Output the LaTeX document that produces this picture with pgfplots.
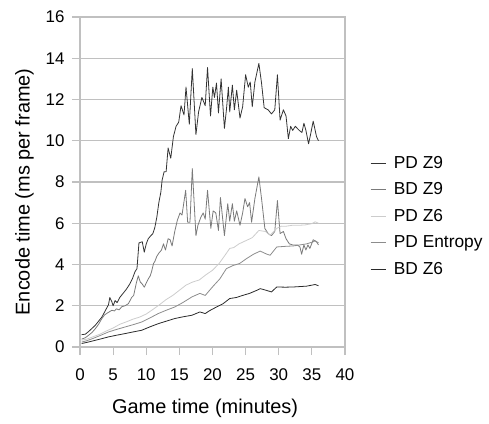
\documentclass[border=0pt]{standalone}
\usepackage{pgfplots}
\pgfplotsset{compat=1.18}
\usepackage{fontspec}
\setmainfont{Liberation Sans}
\definecolor{cPDZnine}{HTML}{333333}
\definecolor{cBDZnine}{HTML}{7A7A7A}
\definecolor{cPDZsix}{HTML}{CCCCCC}
\definecolor{cPDEnt}{HTML}{8C8C8C}
\definecolor{cBDZsix}{HTML}{2A2A2A}
\definecolor{gridc}{HTML}{C0C0C0}
\begin{document}
\begin{tikzpicture}
\path[use as bounding box] (0,0) rectangle (489bp,424bp);
\begin{axis}[
  at={(80bp,77bp)}, anchor=south west,
  width=265bp, height=330bp, scale only axis,
  xmin=0, xmax=40, ymin=0, ymax=16,
  xtick={0,5,...,40}, ytick={0,2,...,16},
  axis line style={draw=gridc, line width=1.2pt},
  ymajorgrids, major grid style={draw=gridc, line width=1.2pt},
  tick align=outside, major tick length=8bp,
  tick style={draw=gridc, line width=1.2pt},
  xtick pos=bottom, ytick pos=left,
  /pgf/number format/assume math mode=true,
  ticklabel style={font=\fontsize{17}{20}\selectfont},
  xticklabel style={yshift=-10bp},
  yticklabel style={xshift=-4bp},
  xlabel={Game time (minutes)},
  ylabel={Encode time (ms per frame)},
  label style={font=\fontsize{20}{24}\selectfont},
  xlabel style={at={(axis description cs:0.472,-0.185)}, anchor=center},
  ylabel style={at={(axis description cs:-0.21,0.47)}, anchor=center},
  legend style={at={(axis description cs:1.094,0.585)}, anchor=north west,
    draw=none, fill=none, font=\fontsize{17.4}{20}\selectfont, row sep=9bp,
    inner sep=0pt, nodes={inner xsep=8bp}},
  legend cell align=left,
  legend image code/.code={\draw[#1] (0bp,0bp) -- (15bp,0bp);},
  every axis plot/.append style={line width=0.8pt, line join=round},
]
% PD Z9
\addplot[color=cPDZnine] coordinates {
(0.25,0.6)(0.8,0.62)(1.3,0.75)(1.8,0.9)(2.3,1.05)(2.8,1.25)(3.3,1.45)(3.8,1.75)
(4.3,2.05)(4.5,2.4)(4.8,2.2)(5.0,2.0)(5.3,2.25)(5.6,2.15)(6.0,2.4)(6.5,2.6)
(7.0,2.8)(7.5,3.05)(7.9,3.3)(8.3,3.65)(8.6,3.8)(8.9,5.05)(9.4,5.1)(9.7,4.6)
(10.0,5.0)(10.3,5.25)(10.7,5.4)(11.0,5.5)(11.3,5.8)(11.6,6.3)(11.9,7.0)(12.2,7.5)
(12.4,8.1)(12.7,8.5)(13.0,8.5)(13.3,9.65)(13.7,9.15)(14.1,10.2)(14.5,10.7)(14.9,10.9)
(15.25,11.7)(15.7,11.25)(16.0,12.6)(16.5,10.8)(16.95,13.5)(17.5,10.3)(17.9,11.4)
(18.4,12.1)(18.9,11.7)(19.25,13.55)(19.7,11.2)(20.05,12.6)(20.3,12.1)(20.6,12.8)
(20.9,11.35)(21.3,13.0)(21.8,10.6)(22.1,11.5)(22.4,12.6)(22.6,11.4)(23.0,12.7)
(23.3,11.5)(23.65,12.45)(24.15,11.1)(24.55,11.65)(25.0,13.2)(25.4,12.6)(25.7,12.85)
(26.0,11.65)(26.4,12.85)(27.0,13.75)(27.4,12.8)(27.8,11.6)(28.4,11.5)(28.9,11.3)
(29.4,11.5)(29.8,13.2)(30.2,11.0)(30.7,11.5)(31.1,11.2)(31.45,10.1)(31.8,10.7)
(32.1,10.5)(32.5,10.7)(32.8,10.6)(33.1,10.5)(33.5,10.4)(33.8,10.85)(34.1,10.5)
(34.5,9.85)(34.8,10.3)(35.2,10.95)(35.7,10.2)(36.0,10.0)
};
\addlegendentry{PD Z9}
% BD Z9
\addplot[color=cBDZnine] coordinates {
(0.25,0.38)(0.8,0.45)(1.3,0.57)(1.8,0.7)(2.3,0.88)(2.8,1.1)(3.3,1.38)(3.7,1.55)
(4.0,1.62)(4.5,1.72)(4.8,1.78)(5.2,1.75)(5.5,1.85)(5.9,1.8)(6.3,1.95)(6.8,2.0)
(7.3,2.1)(7.8,2.4)(8.1,2.5)(8.5,3.1)(8.8,3.45)(9.1,3.15)(9.4,3.05)(9.7,2.9)
(10.0,3.1)(10.3,3.3)(10.6,3.45)(10.8,3.65)(11.1,4.05)(11.3,4.15)(11.6,4.4)(11.9,4.55)
(12.3,4.7)(12.6,5.0)(12.9,4.7)(13.3,5.25)(13.6,5.2)(13.9,4.9)(14.3,5.6)(14.7,6.15)
(15.1,6.5)(15.4,6.4)(15.95,7.6)(16.25,6.05)(16.6,6.05)(16.95,8.65)(17.5,5.4)
(17.8,5.9)(18.25,6.3)(18.6,6.5)(18.9,6.2)(19.25,7.6)(19.75,5.75)(20.1,6.6)
(20.5,6.5)(20.9,5.65)(21.2,7.25)(21.8,5.4)(22.3,6.95)(22.6,6.1)(23.0,6.95)
(23.3,6.1)(23.65,6.6)(24.15,5.9)(24.55,6.5)(24.9,7.2)(25.3,6.8)(25.6,7.0)
(25.9,6.05)(26.4,7.2)(27.0,8.25)(27.4,7.2)(27.9,5.75)(28.4,5.5)(28.9,5.4)
(29.4,5.6)(29.8,7.1)(30.2,5.5)(30.7,5.6)(31.1,5.25)(31.6,5.0)(32.1,4.95)
(32.8,4.95)(33.2,4.85)(33.45,4.5)(33.8,4.95)(34.1,4.7)(34.4,4.95)(34.7,4.78)
(35.2,5.2)(35.7,5.1)(36.0,4.95)
};
\addlegendentry{BD Z9}
% PD Z6
\addplot[color=cPDZsix] coordinates {
(0.25,0.33)(1,0.38)(2,0.5)(3,0.62)(4,0.78)(5,0.92)(6,1.1)(7,1.22)(8,1.35)
(9,1.45)(10,1.6)(11,1.82)(12,2.05)(13,2.3)(14,2.5)(15,2.75)(16,3.0)(17,3.15)
(18,3.25)(19,3.5)(20,3.72)(21,4.05)(22,4.5)(22.6,4.78)(23.2,4.82)(24,5.0)
(25,5.15)(26,5.3)(27,5.65)(28,5.6)(28.7,5.42)(29.7,5.75)(30.4,5.86)(31,5.85)
(32,5.9)(33,5.9)(34,5.92)(35,5.98)(35.5,6.07)(36,6.0)
};
\addlegendentry{PD Z6}
% PD Entropy
\addplot[color=cPDEnt] coordinates {
(0.25,0.24)(1,0.3)(2,0.42)(3,0.55)(4.3,0.73)(5.5,0.85)(6.8,0.97)(8,1.08)
(9.3,1.21)(10.5,1.4)(11.8,1.62)(13,1.78)(14.3,1.94)(15.5,2.15)(16.9,2.43)
(18.1,2.6)(18.9,2.5)(20.1,2.95)(21.1,3.3)(22.1,3.8)(23.1,3.95)(24.1,4.05)
(25.2,4.3)(26.2,4.5)(27.2,4.65)(28.2,4.5)(28.7,4.45)(29.7,4.85)(31,4.88)
(32.2,4.9)(33.2,4.95)(34.2,5.0)(35.2,5.1)(35.5,5.15)(36,5.05)
};
\addlegendentry{PD Entropy}
% BD Z6
\addplot[color=cBDZsix] coordinates {
(0.25,0.17)(1,0.22)(2,0.3)(3,0.38)(4.3,0.49)(5.5,0.57)(6.8,0.65)(8,0.73)
(9.3,0.81)(10.5,0.97)(11.8,1.13)(13,1.25)(14.3,1.38)(15.5,1.46)(16.9,1.54)
(18.1,1.7)(18.9,1.62)(19.5,1.75)(20.6,1.94)(21.6,2.1)(22.6,2.35)(23.6,2.4)
(24.65,2.51)(25.6,2.6)(26.7,2.75)(27.2,2.83)(28.1,2.75)(28.9,2.67)(29.7,2.91)
(31,2.9)(32.2,2.91)(33.2,2.93)(34.2,2.95)(35.5,3.03)(36,2.97)
};
\addlegendentry{BD Z6}
\end{axis}
\end{tikzpicture}
\end{document}
